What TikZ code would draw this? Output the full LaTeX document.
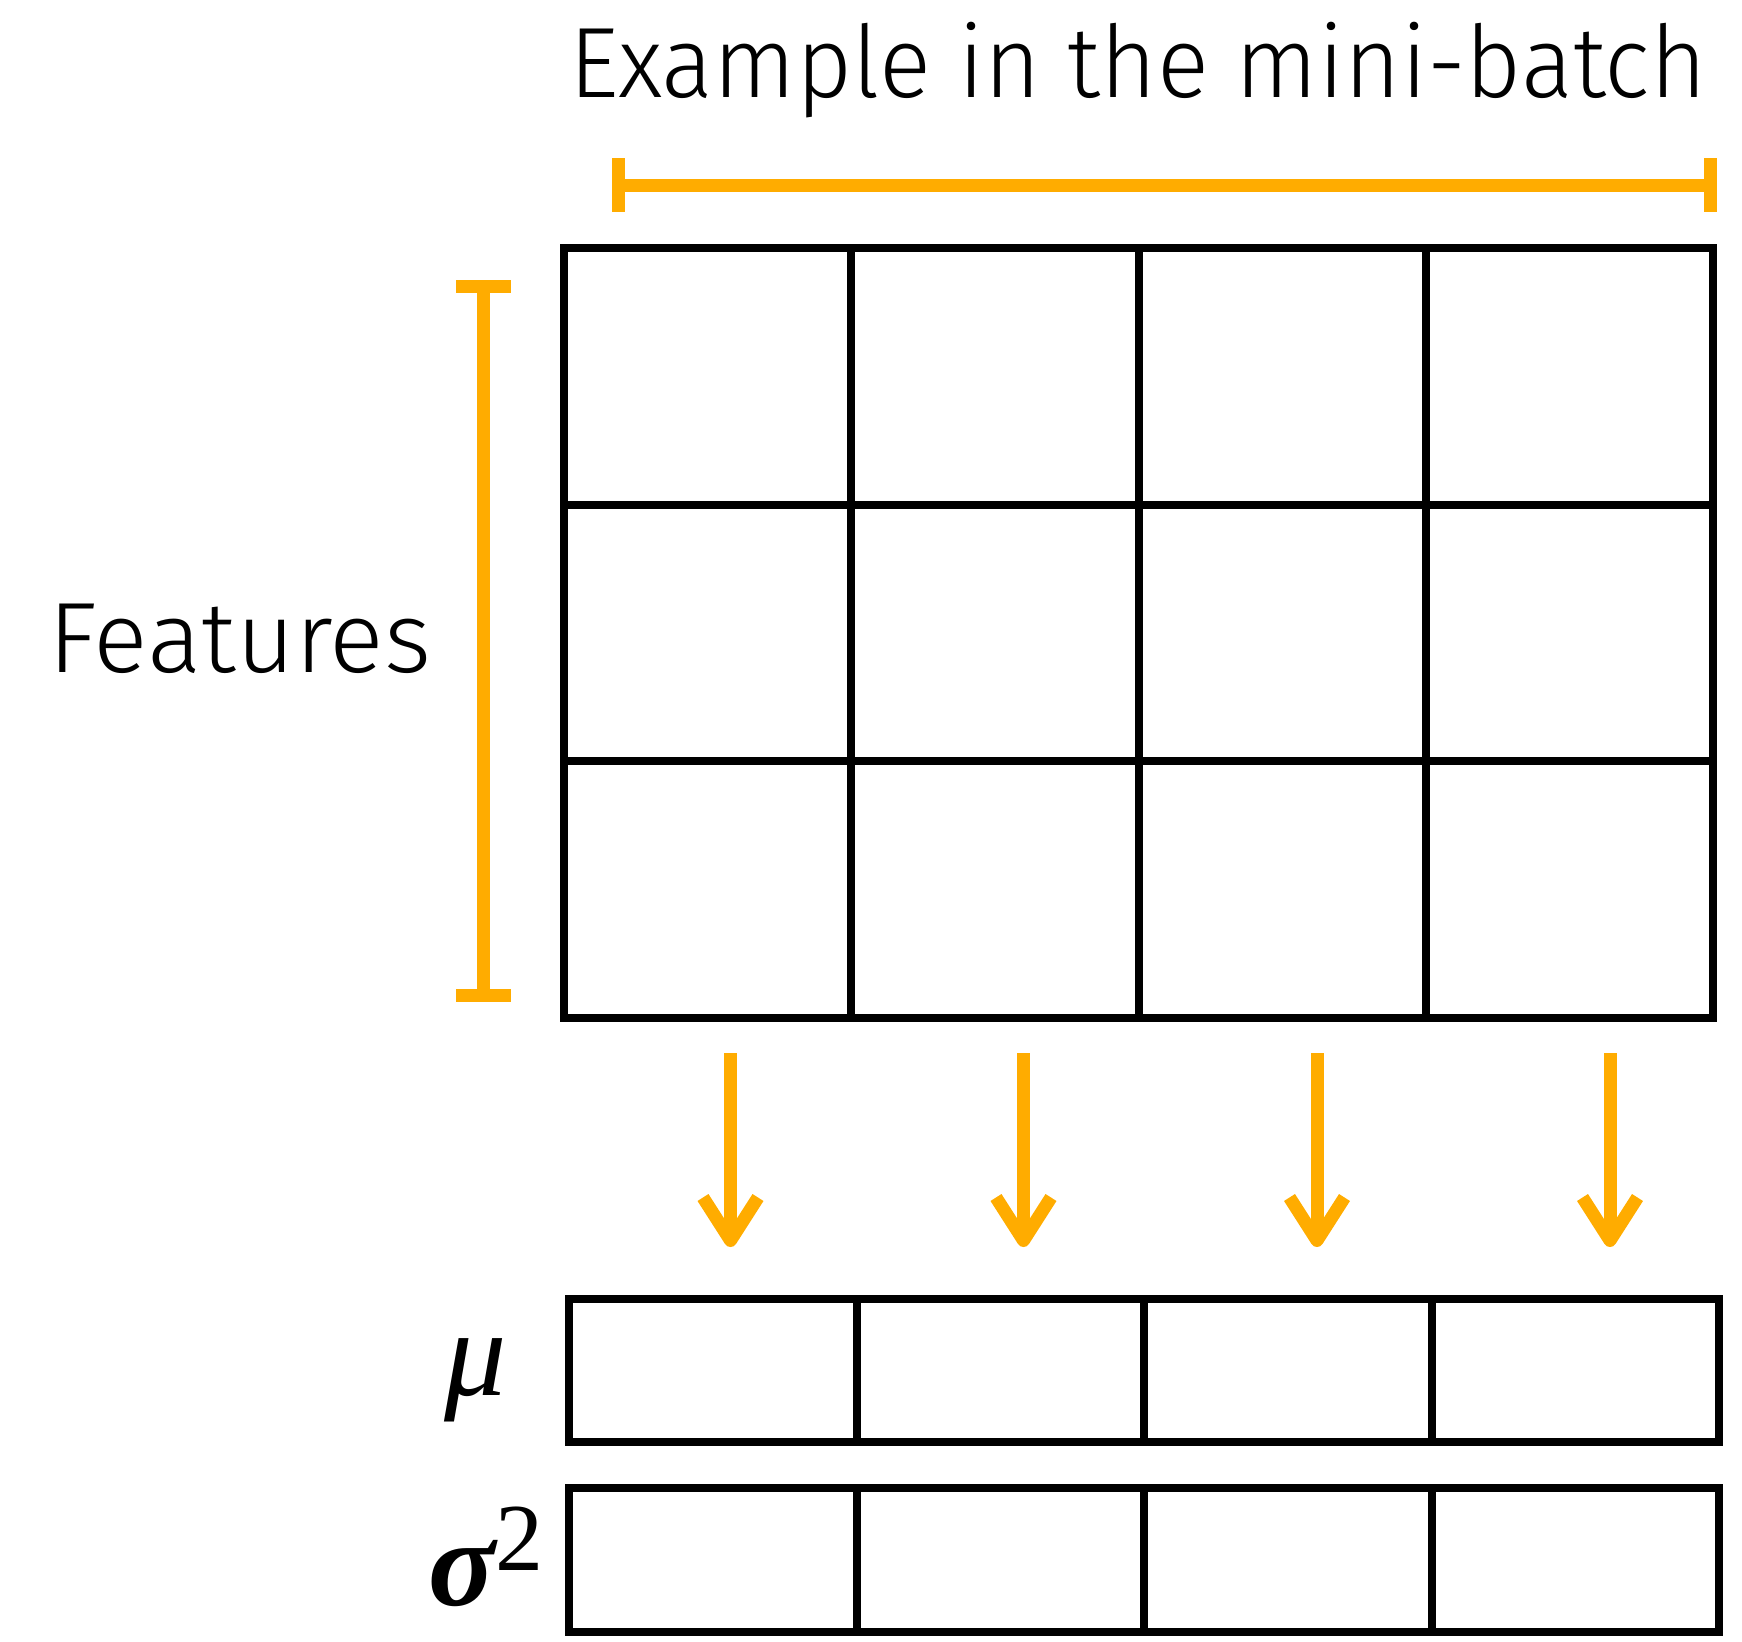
\documentclass[tikz,border=0pt]{standalone}
\usepackage{fontspec}
\newfontfamily\labelfont{Fira Sans Light}
\newfontfamily\symfont{Liberation Serif}
\usetikzlibrary{calc}
\definecolor{barorange}{HTML}{FFAC00}
\tikzset{
  cellline/.style={line width=4pt, black},
  bracket/.style={line width=6.5pt, barorange},
  shaft/.style={line width=6.5pt, barorange},
  barb/.style={line width=6.5pt, barorange, line join=round},
  caption/.style={inner sep=0pt, font=\labelfont\fontsize{50pt}{60pt}\selectfont},
  symbol/.style={inner sep=0pt, font=\symfont\itshape\fontsize{62pt}{70pt}\selectfont},
}
\begin{document}
\begin{tikzpicture}[x=0.5pt, y=-0.5pt]
\useasboundingbox (0,0) rectangle (1742,1642);

% captions
\node[caption, anchor=base, xscale=0.967] (ex) at (1138,98) {Example in the mini-batch};
\node[caption, anchor=base, xscale=1.015] (feat) at (240,673) {Features};

% horizontal bracket over the examples
\coordinate (hl) at (618,185.5);
\coordinate (hr) at (1710,185.5);
\draw[bracket] (hl) -- (hr);
\draw[bracket] ($(hl)+(0,-27)$) -- ($(hl)+(0,27)$);
\draw[bracket] ($(hr)+(0,-27)$) -- ($(hr)+(0,27)$);

% vertical bracket along the features
\coordinate (vt) at (483.5,287);
\coordinate (vb) at (483.5,995.5);
\draw[bracket] (vt) -- (vb);
\draw[bracket] ($(vt)+(-27.5,0)$) -- ($(vt)+(27.5,0)$);
\draw[bracket] ($(vb)+(-27.5,0)$) -- ($(vb)+(27.5,0)$);

% data grid: 3 features x 4 examples
\draw[cellline] (564,248) rectangle (1713,1018);
\foreach \x in {851,1138.5,1426} \draw[cellline] (\x,248) -- (\x,1018);
\foreach \y in {504.7,761.3} \draw[cellline] (564,\y) -- (1713,\y);

% reduction arrows
\foreach \i/\x in {1/730.5,2/1023.5,3/1317,4/1610} {
  \coordinate (at\i) at (\x,1053);
  \coordinate (ah\i) at (\x,1240.5);
  \draw[shaft] (at\i) -- (ah\i);
  \draw[barb] ($(ah\i)+(-27.5,-43)$) -- (ah\i) -- ($(ah\i)+(27.5,-43)$);
}

% mean and variance rows
\foreach \ya/\yb in {1299/1442,1488/1632} {
  \draw[cellline] (569,\ya) rectangle (1719,\yb);
  \foreach \x in {856.5,1144,1431.5} \draw[cellline] (\x,\ya) -- (\x,\yb);
}

\node[symbol] (mu) at (476,1380) {μ};
\node[symbol, anchor=base west] (sig) at (428,1605) {{\bfseries σ}\raisebox{17.5pt}{\upshape\fontsize{48pt}{50pt}\selectfont 2}};
\end{tikzpicture}
\end{document}
